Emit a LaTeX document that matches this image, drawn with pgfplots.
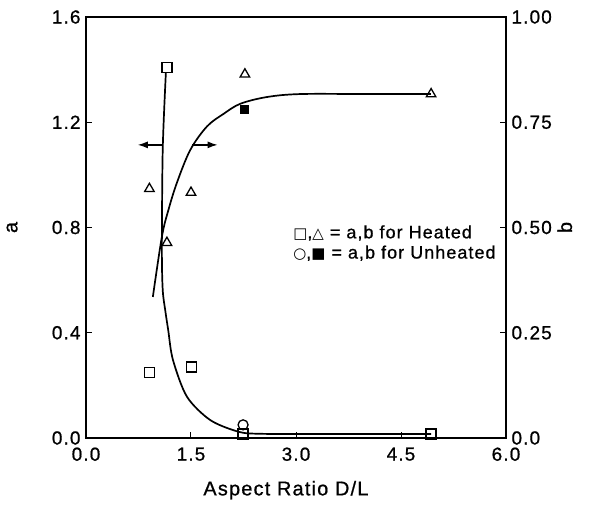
\documentclass[border=0pt]{standalone}
\usepackage{pgfplots}
\pgfplotsset{compat=1.18}
\usepackage{fontspec}
\setmainfont{Liberation Sans}[LetterSpace=6, FakeBold=0.8]
\newfontfamily\symfont{DejaVu Sans}
\usetikzlibrary{arrows.meta}

\pgfplotsset{
  common/.style={
    scale only axis, width=420bp, height=421bp,
    xmin=0, xmax=6,
    tick align=inside, major tick length=6bp,
    axis line style={line width=1.3bp},
    tick style={line width=1bp, black},
    ticklabel style={font=\fontsize{19}{21}\selectfont},
    label style={font=\fontsize{20}{22}\selectfont},
    /pgf/number format/assume math mode=true,
  }
}

\begin{document}
\begin{tikzpicture}
\useasboundingbox (-86bp,-71bp) rectangle (505bp,438bp);
% left axis: a
\begin{axis}[common,
  ymin=0, ymax=1.6,
  xtick={0,1.5,3,4.5,6}, xticklabels={0.0,1.5,3.0,4.5,6.0},
  ytick={0,0.4,0.8,1.2,1.6}, yticklabels={0.0,0.4,0.8,1.2,1.6},
  xtick pos=bottom, ytick pos=left,
  xticklabel style={yshift=-6bp},
  yticklabel style={xshift=-2bp},
  xlabel={Aspect Ratio D/L}, ylabel={a},
  xlabel style={at={(rel axis cs:0.476,-0.124)}, anchor=center},
  ylabel style={at={(rel axis cs:-0.176,0.5)}, anchor=center},
]
% a curve
\addplot[black, line width=1.7bp, smooth, tension=0.5] coordinates {
  (1.141,1.388) (1.096,1.095) (1.084,0.715) (1.096,0.563) (1.131,0.487)
  (1.174,0.411) (1.242,0.297) (1.442,0.157) (1.776,0.068) (2.177,0.024)
  (2.49,0.016) (3.5,0.015) (4.93,0.015)
};
% a heated: squares
\addplot[only marks, mark=square, mark size=5bp, mark options={line width=1.3bp, fill=white}] coordinates {
  (0.906,0.249) (1.156,1.408) (1.504,0.270) (2.244,0.015) (4.93,0.015)
};
% a unheated: circle
\addplot[only marks, mark=o, mark size=5bp, mark options={line width=1.3bp}] coordinates {
  (2.244,0.050)
};
% arrows
\draw[line width=1.3bp, -{Latex[length=10bp,width=7bp]}] (axis cs:1.08,1.114) -- (axis cs:0.74,1.114);
\draw[line width=1.3bp, -{Latex[length=10bp,width=7bp]}] (axis cs:1.52,1.114) -- (axis cs:1.88,1.114);
% legend
\node[anchor=west, inner sep=0pt, font=\fontsize{18}{20}\selectfont] at (rel axis cs:0.493,0.487)
  {{\symfont\fontsize{15}{16}\selectfont □},{\symfont\fontsize{15}{16}\selectfont △} = a,b for Heated};
\node[anchor=west, inner sep=0pt, font=\fontsize{18}{20}\selectfont] at (rel axis cs:0.493,0.439)
  {{\symfont\fontsize{15}{16}\selectfont ○},{\symfont\fontsize{15}{16}\selectfont ■} = a,b for Unheated};
\end{axis}
% right axis: b
\begin{axis}[common,
  ymin=0, ymax=1,
  axis x line=none, axis y line*=right,
  ytick={0,0.25,0.5,0.75,1}, yticklabels={0.0,0.25,0.50,0.75,1.00},
  yticklabel style={xshift=2bp},
  ylabel={b},
  ylabel style={at={(rel axis cs:1.14,0.5)}, anchor=center},
]
\addplot[black, line width=1.7bp, smooth, tension=0.55] coordinates {
  (0.955,0.335) (1.084,0.478) (1.178,0.542) (1.298,0.606) (1.489,0.684)
  (1.728,0.740) (1.966,0.770) (2.206,0.794) (2.588,0.810) (3.065,0.817)
  (4.0,0.817) (4.926,0.817)
};
% b heated: triangles
\addplot[only marks, mark=triangle, mark size=5.5bp, mark options={line width=1.3bp, fill=white}] coordinates {
  (0.906,0.592) (1.156,0.464) (1.500,0.583) (2.270,0.864) (4.930,0.817)
};
% b unheated: filled square
\addplot[only marks, mark=square*, mark size=4bp, mark options={fill=black}] coordinates {
  (2.260,0.780)
};
\end{axis}
\end{tikzpicture}
\end{document}
